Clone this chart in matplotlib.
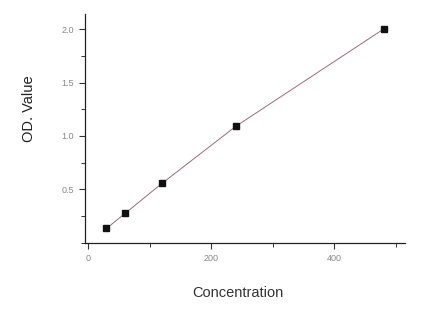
import matplotlib
matplotlib.use("Agg")
import matplotlib.pyplot as plt
from matplotlib.ticker import MultipleLocator

# standard curve points
conc = [30, 60, 120, 240, 480]
od = [0.135, 0.275, 0.556, 1.09, 2.0]

plt.rcParams['font.family'] = ['Liberation Sans', 'DejaVu Sans']

fig = plt.figure(figsize=(4.31, 3.13), dpi=100)
ax = fig.add_axes([0.197, 0.224, 0.743, 0.731])

ax.plot(conc, od, color='#9a6a78', lw=0.7, zorder=2)
ax.plot(conc, od, linestyle='none', marker='s', ms=4.5, color='#111111', zorder=3)

ax.set_xlim(-5, 515)
ax.set_ylim(0, 2.14)
ax.xaxis.set_major_locator(MultipleLocator(200))
ax.xaxis.set_minor_locator(MultipleLocator(100))
ax.yaxis.set_major_locator(MultipleLocator(0.5))
ax.yaxis.set_minor_locator(MultipleLocator(0.25))
ax.set_yticks([0.5, 1.0, 1.5, 2.0])
ax.set_yticklabels(['0.5', '1.0', '1.5', '2.0'])

for s in ['top', 'right']:
    ax.spines[s].set_visible(False)
for s in ['left', 'bottom']:
    ax.spines[s].set_linewidth(0.9)
    ax.spines[s].set_color('#222222')

ax.tick_params(which='major', length=4, width=0.8, color='#333333',
               labelsize=6.5, labelcolor='#888888', direction='out', pad=4)
ax.tick_params(which='minor', length=3, width=0.7, color='#333333', direction='out')

ax.set_xlabel('Concentration', fontsize=10.5, color='#333333')
ax.set_ylabel('OD. Value', fontsize=10.5, color='#222222')
ax.xaxis.set_label_coords(0.478, -0.188)
ax.yaxis.set_label_coords(-0.153, 0.585)

fig.savefig('out.png', dpi=100)
